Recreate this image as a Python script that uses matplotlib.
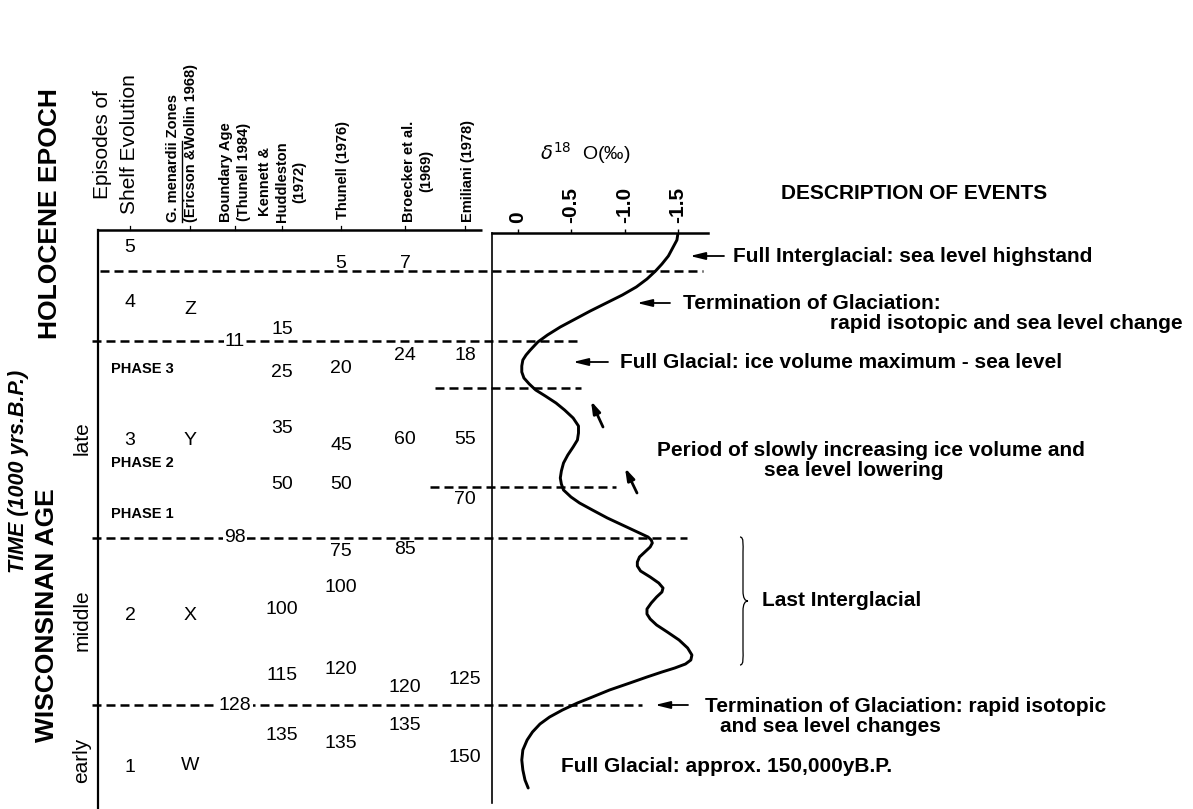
import numpy as np
import matplotlib
matplotlib.use("Agg")
import matplotlib.pyplot as plt
from matplotlib.path import Path
from matplotlib.patches import PathPatch

plt.rcParams['font.family'] = ['Liberation Sans', 'DejaVu Sans']

# ---- data ---------------------------------------------------------------
# column headers of the correlation table
col_x = [130, 190, 235, 282, 341, 405, 465]
header_text = ["Episodes of\nShelf Evolution",
               "G. menardii Zones\n(Ericson &Wollin 1968)",
               "Boundary Age\n(Thunell 1984)",
               "Kennett &\nHuddleston\n(1972)",
               "Thunell (1976)",
               "Broecker et al.\n(1969)",
               "Emiliani (1978)"]
header_x = [116, 182, 235, 282, 343, 418, 468]

# table entries (label, row position)
episodes = ['5', '4', '3', '2', '1']
episodes_y = [247, 302, 440, 615, 767]
zones = ['Z', 'Y', 'X', 'W']
zones_y = [309, 440, 615, 765]
boundary = ['11', '98', '128']
boundary_y = [341, 538, 705]
kennett = ['15', '25', '35', '50', '100', '115', '135']
kennett_y = [329, 372, 428, 484, 609, 676, 736]
thunell = ['5', '20', '45', '50', '75', '100', '120', '135']
thunell_y = [263, 368, 445, 484, 552, 588, 669, 743]
broecker = ['7', '24', '60', '85', '120', '135']
broecker_y = [263, 355, 439, 550, 688, 726]
emiliani = ['18', '55', '70', '125', '150']
emiliani_y = [355, 439, 499, 679, 757]

phases = ['PHASE 3', 'PHASE 2', 'PHASE 1']
phases_y = [369, 463, 514]

# horizontal boundaries (dashed)
dash_y = [271, 341, 388, 487, 538, 705]
dash_x0 = [100, 92, 435, 430, 92, 92]
dash_x1 = [703, 580, 581, 616, 687, 642]

# delta 18O curve (row position, permil)
curve_pos = [233, 240, 248, 256, 264, 271, 279, 287, 295, 303, 311, 319, 327,
             335, 342, 350, 355, 360, 366, 372, 378, 384, 390, 396, 403, 410,
             418, 426, 433, 440, 447, 455, 463, 471, 478, 484, 490, 497, 503,
             510, 518, 527, 533, 537, 540, 543, 547, 552, 557, 562, 566, 571,
             577, 583, 588, 592, 597, 603, 609, 614, 619, 625, 632, 640, 648,
             655, 660, 664, 668, 672, 677, 683, 690, 697, 703, 710, 717, 724,
             732, 740, 750, 760, 770, 780, 788]
curve_d18o = [-1.50, -1.49, -1.45, -1.41, -1.35, -1.29, -1.21, -1.11, -0.98,
              -0.83, -0.68, -0.54, -0.40, -0.28, -0.19, -0.12, -0.08, -0.05,
              -0.04, -0.04, -0.06, -0.11, -0.17, -0.26, -0.36, -0.44, -0.52,
              -0.57, -0.57, -0.56, -0.52, -0.47, -0.43, -0.41, -0.40, -0.41,
              -0.43, -0.50, -0.58, -0.70, -0.84, -1.02, -1.14, -1.22, -1.25,
              -1.26, -1.24, -1.19, -1.14, -1.12, -1.12, -1.15, -1.24, -1.32,
              -1.36, -1.35, -1.30, -1.25, -1.21, -1.21, -1.24, -1.30, -1.40,
              -1.51, -1.59, -1.63, -1.62, -1.57, -1.47, -1.35, -1.21, -1.05,
              -0.86, -0.70, -0.56, -0.42, -0.30, -0.21, -0.14, -0.09, -0.05,
              -0.04, -0.05, -0.07, -0.10]
d18o_ticks = [0, -0.5, -1.0, -1.5]
d18o_ticklabels = ['0', '-0.5', '-1.0', '-1.5']

# description of events
events = ["Full Interglacial: sea level highstand",
          "Termination of Glaciation:",
          "rapid isotopic and sea level change",
          "Full Glacial: ice volume maximum - sea level",
          "Period of slowly increasing ice volume and",
          "sea level lowering",
          "Last Interglacial",
          "Termination of Glaciation: rapid isotopic",
          "and sea level changes",
          "Full Glacial: approx. 150,000yB.P."]
events_x = [733, 683, 1183, 620, 657, 764, 762, 705, 720, 561]
events_y = [256, 303, 323, 362, 450, 470, 600, 706, 727, 767]
events_ha = ['left', 'left', 'right', 'left', 'left', 'left', 'left', 'left', 'left', 'left']

# horizontal arrows: (head x, tail x, y)
arrows_head = [690, 637, 573, 655]
arrows_tail = [724, 670, 608, 688]
arrows_y = [256, 303, 362, 705]
# small slanted arrows
slant_head = [(591, 401), (625, 468)]
slant_tail = [(603, 427), (637, 493)]

# ---- figure ---------------------------------------------------------------
W, H = 1193, 809
fig = plt.figure(figsize=(W / 100, H / 100), dpi=100)
ax = fig.add_axes([0, 0, 1, 1])
ax.set_xlim(0, W)
ax.set_ylim(H, 0)
ax.axis('off')

lw_tab = 1.8
dash = (0, (3.6, 2.0))

# table frame
ax.plot([98, 482], [230, 230], color='k', lw=lw_tab, solid_capstyle='butt')
ax.plot([98, 98], [230, 809], color='k', lw=1.6)
for x in col_x:
    ax.plot([x, x], [230, 226], color='k', lw=0.9)

for y, x0, x1 in zip(dash_y, dash_x0, dash_x1):
    ax.plot([x0, x1], [y, y], color='k', lw=lw_tab, linestyle=dash)

# column headers
small = 10.5
hdr_size = [15, small, small, small, small, small, small]
hdr_weight = ['normal'] + ['bold'] * 6
hdr_align = ['center', 'left', 'center', 'center', 'center', 'center', 'center']
hdr_bottom = [214, 222, 222, 222, 219, 222, 222]
hdr_spacing = [1.55, 1.3, 1.3, 1.3, 1.3, 1.3, 1.3]
for txt, x, s, wt, al, yb, ls in zip(header_text, header_x, hdr_size, hdr_weight,
                                      hdr_align, hdr_bottom, hdr_spacing):
    ax.text(x, yb, txt, rotation=90, ha='center', va='bottom', fontsize=s,
            fontweight=wt, multialignment=al, linespacing=ls)

# underline for "G. menardii"
fig.canvas.draw()
r = fig.canvas.get_renderer()
tmp = ax.text(header_x[1], 222, "G. menardii\n(Ericson &Wollin 1968)", rotation=90,
              ha='center', va='bottom', fontsize=small, fontweight='bold',
              multialignment='left', linespacing=1.3, alpha=0)
tmp2 = ax.text(header_x[1], 222, "G. menardii", rotation=90, ha='left', va='bottom',
               fontsize=small, fontweight='bold', alpha=0)
bb = tmp.get_window_extent(r).transformed(ax.transData.inverted())
bb2 = tmp2.get_window_extent(r).transformed(ax.transData.inverted())
ul_x = bb.x0 + (bb2.x1 - bb2.x0) + 1.5
ax.plot([ul_x, ul_x], [222, 222 - abs(bb2.y1 - bb2.y0)], color='k', lw=1.0)
tmp.remove()
tmp2.remove()

# table entries
num_size = 14
for labels, ys, x in [(episodes, episodes_y, col_x[0]), (zones, zones_y, col_x[1]),
                      (kennett, kennett_y, col_x[3]), (thunell, thunell_y, col_x[4]),
                      (broecker, broecker_y, col_x[5]), (emiliani, emiliani_y, col_x[6])]:
    for lab, y in zip(labels, ys):
        ax.text(x, y, lab, ha='center', va='center', fontsize=num_size)
for lab, y in zip(boundary, boundary_y):
    ax.text(col_x[2], y, lab, ha='center', va='center', fontsize=num_size,
            bbox=dict(facecolor='white', edgecolor='none', pad=1.0))
for lab, y in zip(phases, phases_y):
    ax.text(111, y, lab, ha='left', va='center', fontsize=10.5, fontweight='bold')

# left side labels
ax.text(50, 214, "HOLOCENE EPOCH", rotation=90, ha='center', va='center',
        fontsize=19, fontweight='bold')
ax.text(47, 615, "WISCONSINAN AGE", rotation=90, ha='center', va='center',
        fontsize=19, fontweight='bold')
ax.text(19, 471, "TIME (1000 yrs.B.P.)", rotation=90, ha='center', va='center',
        fontsize=15.5, fontweight='bold', fontstyle='italic')
for lab, y in zip(['late', 'middle', 'early'], [438, 620, 760]):
    ax.text(82, y, lab, rotation=90, ha='center', va='center', fontsize=15)

# ---- delta 18O panel ------------------------------------------------------
px0, px1, py0, py1 = 492, 708, 233, 803
ax2 = fig.add_axes([px0 / W, 1 - py1 / H, (px1 - px0) / W, (py1 - py0) / H])
ax2.patch.set_visible(False)
ax2.set_xlim((517.5 - px0) / 107.0, -(px1 - 517.5) / 107.0)
ax2.set_ylim(py1, py0)
ax2.plot(curve_d18o, curve_pos, color='k', lw=2.1, solid_capstyle='round',
         solid_joinstyle='round')
for s in ['right', 'bottom']:
    ax2.spines[s].set_visible(False)
ax2.spines['top'].set_linewidth(lw_tab)
ax2.spines['left'].set_linewidth(1.2)
ax2.xaxis.tick_top()
ax2.set_xticks(d18o_ticks)
ax2.set_xticklabels(d18o_ticklabels, rotation=90, fontsize=15, fontweight='bold')
ax2.tick_params(axis='x', direction='out', length=3, width=1.0, pad=4)
ax2.set_yticks([])

ax.text(585, 153, r'$\delta^{18}$  O(‰)', ha='center', va='center', fontsize=14)
ax.text(781, 193, "DESCRIPTION OF EVENTS", ha='left', va='center', fontsize=15,
        fontweight='bold')

# ---- events ---------------------------------------------------------------
for txt, x, y, ha in zip(events, events_x, events_y, events_ha):
    ax.text(x, y, txt, ha=ha, va='center', fontsize=15, fontweight='bold')

astyle = '-|>,head_length=0.9,head_width=0.22'
for hx, tx, y in zip(arrows_head, arrows_tail, arrows_y):
    ax.annotate('', xy=(hx, y), xytext=(tx, y),
                arrowprops=dict(arrowstyle=astyle, color='k', lw=1.3,
                                shrinkA=0, shrinkB=0))
for h, t in zip(slant_head, slant_tail):
    ax.annotate('', xy=h, xytext=t,
                arrowprops=dict(arrowstyle='-|>,head_length=0.7,head_width=0.22',
                                color='k', lw=2.0, shrinkA=0, shrinkB=0))

# curly brace for the last interglacial
bx, by0, by1 = 743, 537, 665
bym = (by0 + by1) / 2
verts = [(bx - 3, by0), (bx + 1, by0), (bx, by0 + 8), (bx, by0 + 15),
         (bx, bym - 10),
         (bx, bym - 3), (bx + 2, bym), (bx + 5, bym),
         (bx + 2, bym), (bx, bym + 3), (bx, bym + 10),
         (bx, by1 - 15),
         (bx, by1 - 8), (bx + 1, by1), (bx - 3, by1)]
codes = ([Path.MOVETO] + [Path.CURVE4] * 3 + [Path.LINETO] + [Path.CURVE4] * 6
         + [Path.LINETO] + [Path.CURVE4] * 3)
ax.add_patch(PathPatch(Path(verts, codes), facecolor='none', edgecolor='k', lw=0.9))

fig.savefig('out.png', dpi=100)
